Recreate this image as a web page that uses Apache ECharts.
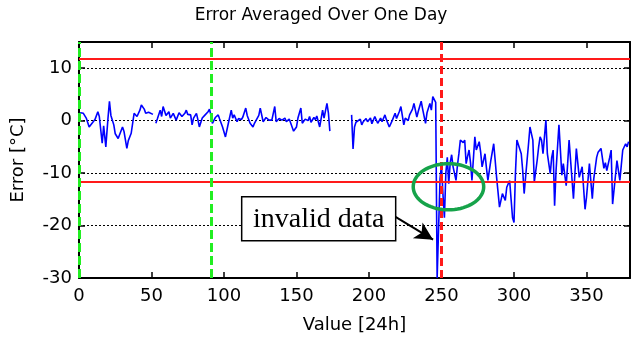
<!DOCTYPE html>
<html>
<head>
<meta charset="utf-8">
<script src="https://cdn.jsdelivr.net/npm/echarts@6/dist/echarts.min.js"></script>
<style>
  html, body { margin: 0; padding: 0; background: #fff; }
  #chart { width: 633px; height: 340px; }
</style>
</head>
<body>
<div id="chart"></div>
<script>
// Day index of each daily average (null error = missing day, breaks the line)
const days = [
  0, 1, 3, 5, 7, 9, 11, 13, 14, 16, 17, 18.5, 20, 21, 22, 24, 25, 27, 28, 30,
  31, 33, 34, 36, 38, 40, 42, 43, 45, 46, 48, 49, 51, 52,
  53, 54, 56, 57, 58, 60, 62, 63, 65, 66, 67, 69, 71, 73, 74, 75, 77, 78, 79,
  81, 82, 83, 85, 87, 89, 90, 91, 92, 94, 96, 97, 99, 101, 103, 105, 106, 107,
  109, 110, 112, 113, 115, 116, 118, 120, 121, 122, 124, 125, 127, 129, 131,
  133, 135, 136, 138, 140, 142, 143, 145, 146, 148, 149, 150, 151, 153, 154,
  156, 158, 159, 160, 162, 163, 164, 166, 168, 169, 171, 172, 173, 174,
  188, 189, 190, 191, 192, 194, 195, 196, 198, 199, 201, 202, 204, 206, 208,
  209, 211, 212, 214, 216, 218, 219, 221, 222, 224, 225, 227, 228, 230, 231,
  233, 234, 236, 237, 239, 240, 242, 243, 244, 245, 246, 247, 248,
  249, 250, 251, 252, 253, 254, 255, 256, 257, 258, 260, 261, 262, 263, 265,
  266, 267, 268, 269, 270, 271, 273, 274, 276, 277, 278, 280, 281, 282, 284,
  286, 287, 288, 290, 292, 294, 295, 297, 298, 299, 300, 301, 302, 303, 305,
  306, 307, 309, 310, 311, 313, 314, 316, 317, 318, 319, 320, 322, 323, 325,
  326, 327, 328, 329, 331, 333, 334, 336, 337, 338, 339, 341, 343, 345, 347,
  349, 350, 352, 354, 355, 357, 358, 360, 362, 363, 364, 366, 367, 368, 370,
  371, 373, 375, 377, 378, 379
];
const errors = [
  0.3, 1.5, 1.4, 0.5, -1.2, -0.5, 0.2, 1.7, 0.8, -4.3, -1.0, -5.0, 0.5, 3.7, 1.0, -0.8, -2.5, -3.4, -3.7, -1.2,
  -2.0, -5.3, -3.8, -2.4, 1.4, 0.8, 2.0, 3.0, 2.2, 1.4, 1.6, 1.3, 1.2, null,
  -0.5, 0.3, 2.0, 0.8, 2.7, 1.0, 1.7, 0.5, 1.4, 1.7, 0.1, 1.5, 0.8, 1.4, 2.0, 1.2, 1.1, -0.8, 0.5,
  1.4, 0.2, -1.2, 0.5, 1.1, 1.7, 2.2, 1.0, -0.5, 0.6, 1.1, 0.3, -1.2, -3.1, -0.5, 2.0, 0.5, 1.1,
  -0.2, 0.4, 0.2, 0.7, 2.4, 1.0, -0.5, -1.2, -0.5, -0.2, 1.0, 2.4, -0.2, 0.6, 0.1,
  0.1, 2.7, -0.2, 0.4, 0.1, 0.5, -0.2, 0.3, 0.0, -2.0, -1.6, -1.2, 0.5, 2.4, -0.5,
  0.3, 0.0, 0.8, -0.3, 0.6, 0.2, 0.9, -1.2, 2.0, 0.5, 3.3, 1.5, -2.0, null,
  1.1, -5.4, -1.2, -0.3, -0.5, 0.3, -0.8, -0.2, 0.4, -0.2, 0.5, -0.6, 0.8, -0.5, 0.5,
  -0.2, 1.1, 0.2, -1.2, 0.0, 1.4, 0.4, 1.8, 2.7, -0.8, 0.5, 0.0, 1.1, 2.2, 3.3,
  0.7, 1.8, 3.7, 2.2, -0.5, 1.5, 3.3, 2.0, 4.6, 4.9, 3.5, -30, -30,
  -11.0, -8.5, -14.0, -18.5, -10.0, -7.0, -12.0, -8.0, -6.5, -8.8, -11.4, -8.5, -6.3, -3.7, -4.2,
  -3.7, -8.2, -6.8, -5.6, -8.0, -11.4, -3.1, -5.6, -4.0, -6.0, -8.8, -6.3, -9.0, -11.4, -7.6,
  -4.4, -7.5, -10.8, -16.5, -13.9, -15.2, -12.7, -11.4, -15.0, -18.5, -19.4, -10.0, -3.7, -3.4, -6.3,
  -9.5, -13.9, -7.6, -4.5, -1.2, -3.7, -11.7, -7.5, -5.0, -3.1, -3.7, -6.3, 0.1, -6.3, -10.1,
  -7.0, -5.6, -16.2, -9.5, -0.8, -10.4, -8.2, -12.4, -8.2, -3.7, -3.7, -14.9, -5.3, -10.8, -8.8,
  -16.9, -14.6, -8.2, -14.9, -11.1, -7.0, -6.0, -5.3, -9.1, -8.0, -9.5, -7.0, -5.6, -15.9, -10.4,
  -7.6, -11.4, -5.6, -4.4, -5.0, -4.0
];

// Axis ranges and tick steps
const xRange = [0, 380];
const xStep = 50;
const yRange = [-30, 15];
const yStep = 10;

// Tolerance band (red solid lines) and period markers (dashed verticals)
const toleranceLimits = [11.9, -11.6];
const periodStarts = [0, 91];
const changeDay = 250;

// Annotation anchors in data units
const noteText = 'invalid data';
const noteCenter = [165.3, -18.7];
const noteArrow = [[218, -18.3], [244.2, -22.7]];
const ringCenter = [254.8, -12.6];
const ringRadius = [24.3, 4.4];

const FONT = '"DejaVu Sans", Verdana, sans-serif';
const chart = echarts.init(document.getElementById('chart'), null, { renderer: 'canvas' });

const seriesData = days.map((d, i) => [d, errors[i]]);

const hideOffStep = step => v => (Math.abs(v % step) < 1e-9 ? String(v) : '');

const frameAxis = {
  axisLine: { show: true, onZero: false, lineStyle: { color: '#000', width: 2 } },
  axisTick: { show: true, inside: true, length: 6, lineStyle: { color: '#000', width: 1.5 } }
};

chart.setOption({
  animation: false,
  backgroundColor: '#fff',
  grid: { left: 79, top: 42, width: 555, height: 236, containLabel: false },
  xAxis: [
    Object.assign({
      type: 'value', min: xRange[0], max: xRange[1], interval: xStep, position: 'bottom',
      axisLabel: { color: '#000', fontSize: 18, fontFamily: FONT, margin: 9, formatter: hideOffStep(xStep) },
      splitLine: { show: false },
      name: 'Value [24h]', nameLocation: 'middle', nameGap: 38,
      nameTextStyle: { color: '#000', fontSize: 18, fontFamily: FONT }
    }, frameAxis),
    Object.assign({
      type: 'value', min: xRange[0], max: xRange[1], interval: xStep, position: 'top',
      axisLabel: { show: false }, splitLine: { show: false }
    }, frameAxis)
  ],
  yAxis: [
    Object.assign({
      type: 'value', min: yRange[0], max: yRange[1], interval: yStep, position: 'left',
      axisLabel: { color: '#000', fontSize: 18, fontFamily: FONT, margin: 7, formatter: hideOffStep(yStep) },
      splitLine: { show: true, lineStyle: { color: '#000', width: 1, type: [2, 2] } },
      name: 'Error [°C]', nameLocation: 'middle', nameGap: 52,
      nameTextStyle: { color: '#000', fontSize: 18, fontFamily: FONT }
    }, frameAxis),
    Object.assign({
      type: 'value', min: yRange[0], max: yRange[1], interval: yStep, position: 'right',
      axisLabel: { show: false }, splitLine: { show: false }
    }, frameAxis)
  ],
  series: [
    {
      name: 'error',
      type: 'line',
      data: seriesData,
      showSymbol: false,
      connectNulls: false,
      lineStyle: { color: '#0000ff', width: 1.6 },
      itemStyle: { color: '#0000ff' },
      z: 2
    },
    {
      name: 'references',
      type: 'line',
      data: [],
      z: 3,
      markLine: {
        silent: true,
        symbol: 'none',
        animation: false,
        label: { show: false },
        data: [
          ...toleranceLimits.map(v => ({ yAxis: v, lineStyle: { color: '#ff1a1a', width: 2, type: 'solid' } })),
          ...periodStarts.map(v => ({ xAxis: v, lineStyle: { color: '#22ee22', width: 3, type: [9, 4] } })),
          { xAxis: changeDay, lineStyle: { color: '#ff1a1a', width: 3, type: [8, 4] } },
          [
            { coord: noteArrow[0], symbol: 'none' },
            { coord: noteArrow[1], symbol: 'arrow', symbolSize: [14, 18],
              lineStyle: { color: '#000', width: 2, type: 'solid' } }
          ]
        ]
      }
    }
  ]
});

// Overlay: title, annotation box and highlight ring, placed from data anchors
const toPx = p => chart.convertToPixel({ gridIndex: 0 }, p);
const c = toPx(ringCenter);
const edge = toPx([ringCenter[0] + ringRadius[0], ringCenter[1] + ringRadius[1]]);
const rx = Math.abs(edge[0] - c[0]);
const ry = Math.abs(edge[1] - c[1]);
const ringPts = [];
for (let k = 0; k < 72; k++) {
  const a = (k / 72) * Math.PI * 2;
  ringPts.push([c[0] + rx * Math.cos(a), c[1] + ry * Math.sin(a)]);
}
const nc = toPx(noteCenter);
const boxW = 154, boxH = 44;

chart.setOption({
  graphic: [
    {
      type: 'text', x: 321, y: 16, z: 10,
      style: { text: 'Error Averaged Over One Day', font: '17px ' + FONT, fill: '#000', align: 'center', verticalAlign: 'middle' }
    },
    {
      type: 'polygon', z: 10, silent: true,
      shape: { points: ringPts },
      style: { fill: 'none', stroke: '#16a34a', lineWidth: 3.5 }
    },
    {
      type: 'rect', z: 10, silent: true,
      shape: { x: nc[0] - boxW / 2, y: nc[1] - boxH / 2, width: boxW, height: boxH },
      style: { fill: '#fff', stroke: '#000', lineWidth: 1.5 }
    },
    {
      type: 'text', z: 11, x: nc[0], y: nc[1] + 1,
      style: { text: noteText, font: '28px "Liberation Serif", "Times New Roman", serif', fill: '#000', align: 'center', verticalAlign: 'middle' }
    }
  ]
});
</script>
</body>
</html>
